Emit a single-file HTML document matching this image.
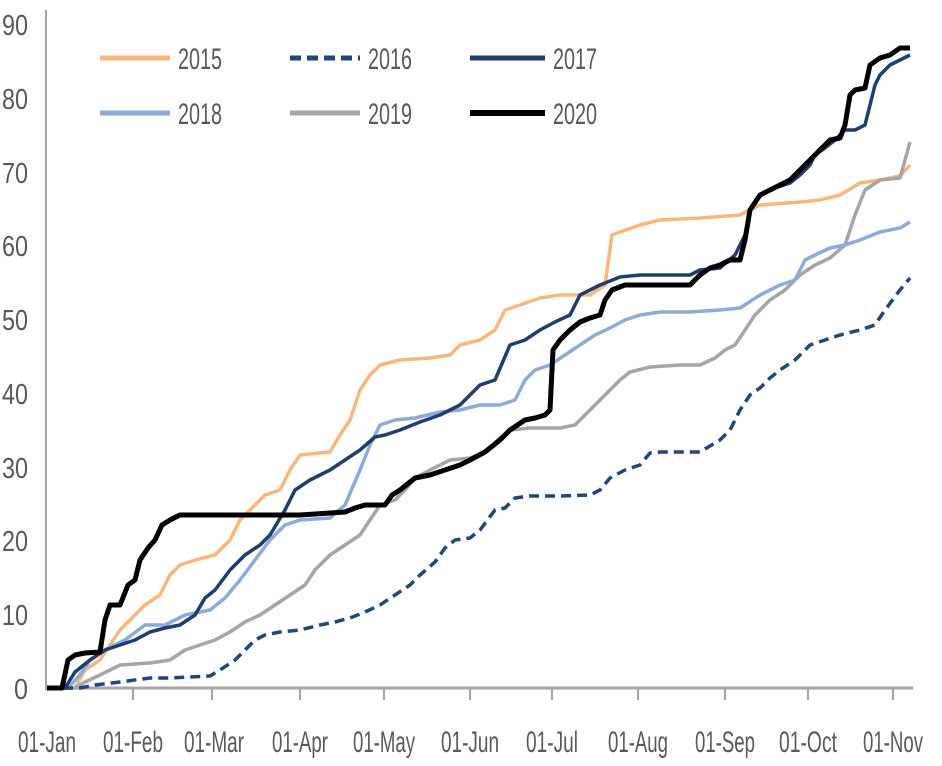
<!DOCTYPE html><html><head><style>body{margin:0;background:#fff}svg{display:block}text{font-family:"Liberation Sans Narrow","Liberation Sans",sans-serif;fill:#595959}</style></head><body>
<svg width="942" height="766" viewBox="0 0 942 766">
<line x1="46" y1="10" x2="46" y2="690" stroke="#a6a6a6" stroke-width="2"/>
<line x1="45" y1="688" x2="913" y2="688" stroke="#a6a6a6" stroke-width="3"/>
<g stroke="#a6a6a6" stroke-width="2">
<line x1="133" y1="688" x2="133" y2="700"/><line x1="212" y1="688" x2="212" y2="700"/><line x1="300" y1="688" x2="300" y2="700"/><line x1="384" y1="688" x2="384" y2="700"/><line x1="470" y1="688" x2="470" y2="700"/><line x1="552" y1="688" x2="552" y2="700"/><line x1="638" y1="688" x2="638" y2="700"/><line x1="725" y1="688" x2="725" y2="700"/><line x1="808" y1="688" x2="808" y2="700"/><line x1="893" y1="688" x2="893" y2="700"/>
</g>
<g font-size="29" text-anchor="end">
<text x="28" y="699" textLength="14" lengthAdjust="spacingAndGlyphs">0</text><text x="28" y="625" textLength="26" lengthAdjust="spacingAndGlyphs">10</text><text x="28" y="551" textLength="26" lengthAdjust="spacingAndGlyphs">20</text><text x="28" y="478" textLength="26" lengthAdjust="spacingAndGlyphs">30</text><text x="28" y="404" textLength="26" lengthAdjust="spacingAndGlyphs">40</text><text x="28" y="330" textLength="26" lengthAdjust="spacingAndGlyphs">50</text><text x="28" y="256" textLength="26" lengthAdjust="spacingAndGlyphs">60</text><text x="28" y="183" textLength="26" lengthAdjust="spacingAndGlyphs">70</text><text x="28" y="109" textLength="26" lengthAdjust="spacingAndGlyphs">80</text><text x="28" y="35" textLength="26" lengthAdjust="spacingAndGlyphs">90</text>
</g>
<g font-size="30" text-anchor="middle">
<text x="47" y="752" textLength="58" lengthAdjust="spacingAndGlyphs">01-Jan</text><text x="133" y="752" textLength="60" lengthAdjust="spacingAndGlyphs">01-Feb</text><text x="214" y="752" textLength="60" lengthAdjust="spacingAndGlyphs">01-Mar</text><text x="300" y="752" textLength="56" lengthAdjust="spacingAndGlyphs">01-Apr</text><text x="384" y="752" textLength="62" lengthAdjust="spacingAndGlyphs">01-May</text><text x="470" y="752" textLength="58" lengthAdjust="spacingAndGlyphs">01-Jun</text><text x="552" y="752" textLength="52" lengthAdjust="spacingAndGlyphs">01-Jul</text><text x="638" y="752" textLength="60" lengthAdjust="spacingAndGlyphs">01-Aug</text><text x="725" y="752" textLength="60" lengthAdjust="spacingAndGlyphs">01-Sep</text><text x="808" y="752" textLength="58" lengthAdjust="spacingAndGlyphs">01-Oct</text><text x="893" y="752" textLength="60" lengthAdjust="spacingAndGlyphs">01-Nov</text>
</g>
<g fill="none" stroke-linejoin="round">
<polyline stroke="#f7b77d" stroke-width="3.5" points="47,688 75,688 85,670 100,660 110,645 120,630 130,620 145,605 160,595 170,575 180,565 195,560 215,555 230,540 240,520 255,505 265,495 280,490 290,470 300,455 330,452 340,435 350,420 360,390 370,375 380,365 400,360 430,358 450,355 460,345 480,340 495,330 505,310 520,305 540,298 560,295 590,295 605,285 612,235 620,232 640,225 660,220 700,218 740,215 760,205 800,202 820,200 840,195 860,183 880,180 900,176 910,165"/>
<polyline stroke="#a5a5a5" stroke-width="3.5" points="47,688 75,688 85,682 100,675 120,665 150,663 170,660 185,650 200,645 215,640 230,632 245,622 260,615 275,605 290,595 305,585 315,570 330,555 345,545 360,535 370,520 380,505 395,500 405,490 415,478 430,470 450,460 470,458 485,452 500,438 510,430 530,428 560,428 575,425 590,410 605,395 620,380 630,372 650,367 680,365 700,365 715,358 725,350 735,345 745,330 755,315 770,300 785,290 800,275 815,265 830,258 845,245 855,215 865,190 880,180 900,178 905,160 910,142"/>
<polyline stroke="#8eaadb" stroke-width="3.5" points="47,688 68,688 80,675 90,660 105,650 125,640 145,625 165,625 185,615 210,610 225,598 240,580 255,560 270,540 285,525 300,520 330,518 345,505 360,470 370,445 380,425 395,420 415,418 440,412 460,410 480,405 500,405 515,400 525,380 535,370 550,365 565,355 580,345 595,335 610,328 625,320 640,315 660,312 690,312 720,310 740,308 760,295 770,290 780,285 795,280 805,260 815,255 830,248 845,245 860,240 880,232 900,228 910,222"/>
<polyline stroke="#1f477d" stroke-width="3.5" stroke-dasharray="10,6" points="47,688 80,688 95,685 120,682 150,678 170,678 210,676 220,670 235,660 245,650 255,640 265,635 280,632 300,630 320,625 335,622 350,618 365,612 380,605 395,595 410,585 420,575 435,562 445,548 455,540 470,538 480,530 495,510 505,508 515,498 530,496 560,496 590,495 600,490 610,478 625,470 640,465 650,453 660,452 700,452 710,446 720,440 730,430 740,410 750,395 760,388 770,378 780,370 795,360 810,345 825,340 840,335 860,330 875,325 885,310 900,290 910,278"/>
<polyline stroke="#1f3d6e" stroke-width="3.5" points="47,688 65,688 75,672 90,660 105,650 120,645 135,640 150,632 165,628 180,625 195,615 205,598 215,590 230,570 245,555 260,545 270,535 285,510 295,490 310,480 330,470 345,460 360,450 375,437 385,435 400,430 420,422 440,415 460,405 470,395 480,385 495,380 510,345 525,340 540,330 555,322 570,315 580,295 600,285 620,277 640,275 690,275 700,270 720,268 735,255 745,235 750,210 760,195 775,188 790,183 800,175 810,165 815,155 825,148 835,140 845,130 855,130 865,125 875,85 880,75 890,65 900,60 910,55"/>
<polyline stroke="#000" stroke-width="5" points="47,688 62,688 68,660 75,655 85,653 100,652 105,620 110,605 120,605 128,585 135,580 140,560 148,548 155,540 162,525 170,520 180,515 220,515 300,515 345,512 355,508 365,505 385,505 392,495 400,490 415,478 430,475 445,470 460,465 470,460 485,452 500,440 510,430 525,420 535,418 545,415 550,410 553,350 560,340 570,330 580,322 590,318 600,315 605,300 612,290 625,285 650,285 690,285 700,275 710,268 720,265 730,260 740,260 745,240 750,210 760,195 770,190 780,185 790,180 800,170 810,160 820,150 830,140 840,138 845,125 850,95 855,90 865,88 870,65 880,58 890,55 900,48 910,48"/>
</g>
<g stroke-width="5">
<line x1="100" y1="58" x2="170" y2="58" stroke="#f7b77d"/>
<line x1="290" y1="58" x2="360" y2="58" stroke="#1f477d" stroke-dasharray="11,6"/>
<line x1="470" y1="58" x2="545" y2="58" stroke="#1f3d6e"/>
<line x1="100" y1="113" x2="170" y2="113" stroke="#8eaadb"/>
<line x1="290" y1="113" x2="360" y2="113" stroke="#a5a5a5"/>
<line x1="470" y1="113" x2="545" y2="113" stroke="#000" stroke-width="6"/>
</g>
<g font-size="30">
<text x="178" y="69" textLength="44" lengthAdjust="spacingAndGlyphs">2015</text><text x="368" y="69" textLength="44" lengthAdjust="spacingAndGlyphs">2016</text><text x="553" y="69" textLength="44" lengthAdjust="spacingAndGlyphs">2017</text>
<text x="178" y="124" textLength="44" lengthAdjust="spacingAndGlyphs">2018</text><text x="368" y="124" textLength="44" lengthAdjust="spacingAndGlyphs">2019</text><text x="553" y="124" textLength="44" lengthAdjust="spacingAndGlyphs">2020</text>
</g>
</svg></body></html>
